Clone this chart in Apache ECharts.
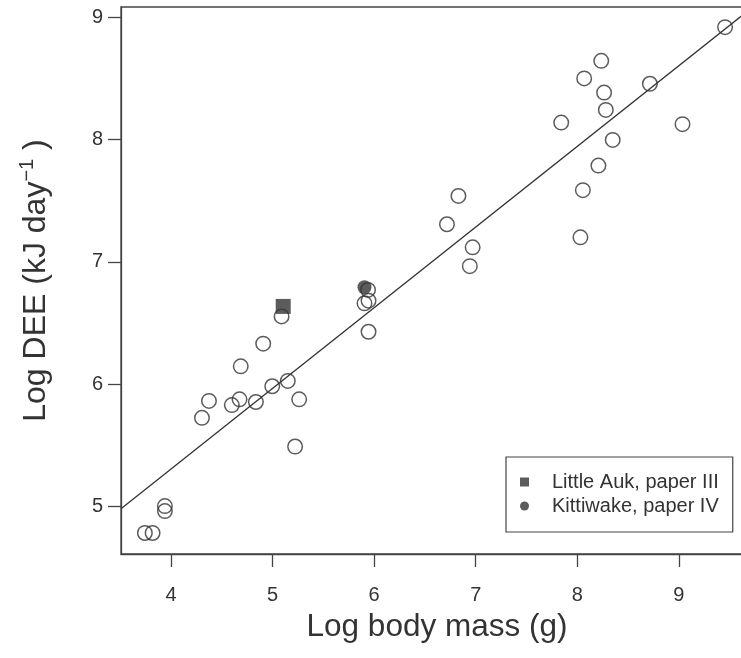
<!DOCTYPE html>
<html>
<head>
<meta charset="utf-8">
<script src="https://cdn.jsdelivr.net/npm/echarts@6/dist/echarts.min.js"></script>
<style>
  html, body { margin: 0; padding: 0; background: #fff; }
  #main { width: 741px; height: 658px; }
</style>
</head>
<body>
<div id="main"></div>
<script>
// log body mass (g), log DEE (kJ/day)
var otherSpecies = [
    [3.743, 4.783], [3.819, 4.783], [3.940, 5.003], [3.940, 4.962],
    [4.305, 5.725], [4.374, 5.863], [4.599, 5.829], [4.675, 5.876],
    [4.687, 6.146], [4.836, 5.854], [4.908, 6.331], [4.997, 5.983],
    [5.150, 6.027], [5.262, 5.876], [5.222, 5.490], [5.089, 6.554],
    [5.905, 6.661], [5.945, 6.683], [5.940, 6.771], [5.945, 6.429],
    [6.717, 7.308], [6.830, 7.540], [6.970, 7.119], [6.942, 6.965],
    [7.842, 8.140], [8.068, 8.501], [8.236, 8.645], [8.264, 8.385],
    [8.281, 8.243], [8.349, 7.998], [8.208, 7.788], [8.055, 7.587],
    [8.031, 7.201], [8.715, 8.457], [9.036, 8.127], [9.455, 8.920]
];
var littleAuk = [[5.105, 6.636]];
var kittiwake = [[5.905, 6.793]];

// fitted line: y = a + b * x
var fitIntercept = 2.665;
var fitSlope = 0.660;

var xRange = [3.508, 9.73];
var yRange = [4.611, 9.085];
var xTicks = [4, 5, 6, 7, 8, 9];
var yTicks = [5, 6, 7, 8, 9];

var fitLine = [
    [xRange[0], fitIntercept + fitSlope * xRange[0]],
    [xRange[1], fitIntercept + fitSlope * xRange[1]]
];

var ink = '#333';
var font = 'Liberation Sans, Arial, sans-serif';

var myChart = echarts.init(document.getElementById('main'));
var option = {
    backgroundColor: '#fff',
    animation: false,
    grid: {
        left: 121,
        top: 7,
        width: 632,
        bottom: 104,
        outerBoundsMode: 'none',
        show: true,
        borderColor: '#444',
        borderWidth: 1.3
    },
    legend: {
        orient: 'vertical',
        left: 506,
        top: 457,
        padding: [15, 14, 16, 14],
        borderColor: '#444',
        borderWidth: 1.2,
        itemWidth: 9,
        itemHeight: 9,
        itemGap: 4,
        data: [
            { name: 'Little Auk, paper III', icon: 'rect' },
            { name: 'Kittiwake, paper IV', icon: 'circle' }
        ],
        textStyle: {
            color: ink,
            fontSize: 20,
            fontFamily: font,
            lineHeight: 20,
            padding: [0, 0, 0, 18]
        }
    },
    xAxis: {
        type: 'value',
        min: xRange[0],
        max: xRange[1],
        name: 'Log body mass (g)',
        nameLocation: 'middle',
        nameGap: 57,
        nameTextStyle: { color: ink, fontSize: 31.5, fontFamily: font },
        axisLine: { show: true, lineStyle: { color: '#444', width: 1.3 } },
        axisTick: { show: true, length: 13, customValues: xTicks, lineStyle: { color: '#444', width: 1.3 } },
        axisLabel: { customValues: xTicks, margin: 31, color: ink, fontSize: 20, fontFamily: font },
        splitLine: { show: false }
    },
    yAxis: {
        type: 'value',
        min: yRange[0],
        max: yRange[1],
        name: '{a|Log DEE (kJ day}{b|\u22121}{a| )}',
        nameLocation: 'middle',
        nameRotate: 90,
        nameGap: 66,
        nameTextStyle: {
            rich: {
                a: { color: ink, fontSize: 32, fontFamily: font },
                b: { color: ink, fontSize: 20, fontFamily: font, padding: [0, 0, 18, 0] }
            }
        },
        axisLine: { show: true, lineStyle: { color: '#444', width: 1.3 } },
        axisTick: { show: true, length: 13, customValues: yTicks, lineStyle: { color: '#444', width: 1.3 } },
        axisLabel: { customValues: yTicks, margin: 18, color: ink, fontSize: 20, fontFamily: font },
        splitLine: { show: false }
    },
    series: [{
        name: 'fit',
        type: 'line',
        data: fitLine,
        showSymbol: false,
        silent: true,
        lineStyle: { color: ink, width: 1.3 }
    }, {
        name: 'others',
        type: 'scatter',
        data: otherSpecies,
        symbol: 'circle',
        symbolSize: 14.5,
        itemStyle: { color: 'rgba(0,0,0,0)', borderColor: ink, borderWidth: 1.5 }
    }, {
        name: 'Little Auk, paper III',
        type: 'scatter',
        data: littleAuk,
        symbol: 'rect',
        symbolSize: 15,
        itemStyle: { color: ink }
    }, {
        name: 'Kittiwake, paper IV',
        type: 'scatter',
        data: kittiwake,
        symbol: 'circle',
        symbolSize: 14,
        itemStyle: { color: ink }
    }]
};
myChart.setOption(option);
</script>
</body>
</html>
